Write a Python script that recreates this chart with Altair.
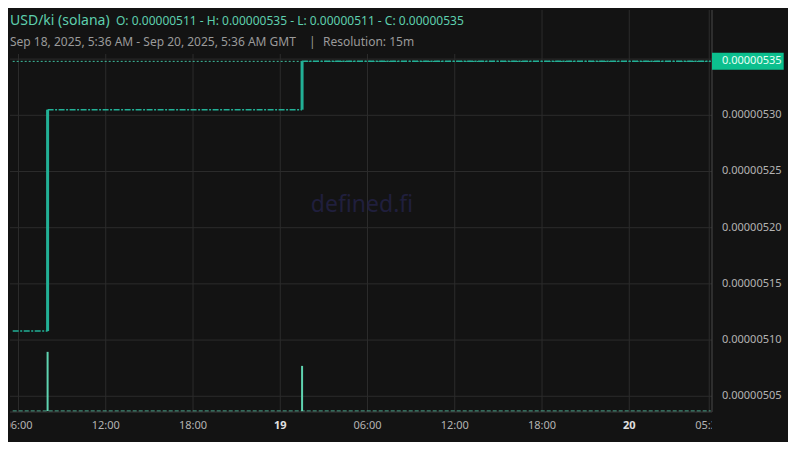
import altair as alt
import pandas as pd

# ---------------- data ----------------
range_start = "2025-09-18T05:36:00Z"
range_end = "2025-09-20T05:36:00Z"

seg_start = ["2025-09-18T05:36:00Z", "2025-09-18T08:00:00Z", "2025-09-19T01:30:00Z"]
seg_end = ["2025-09-18T08:00:00Z", "2025-09-19T01:30:00Z", "2025-09-20T05:36:00Z"]
seg_price = [5.108e-6, 5.305e-6, 5.348e-6]

candle_time = ["2025-09-18T08:00:00Z", "2025-09-19T01:30:00Z"]
candle_open = [5.108e-6, 5.305e-6]
candle_close = [5.305e-6, 5.348e-6]
vol_value = [118, 90]

last_price = 5.348e-6
last_label = "0.00000535"

price_ticks = [5.05e-6, 5.10e-6, 5.15e-6, 5.20e-6, 5.25e-6, 5.30e-6, 5.35e-6]
time_ticks = ["2025-09-18T06:00:00Z", "2025-09-18T12:00:00Z", "2025-09-18T18:00:00Z",
              "2025-09-19T00:00:00Z", "2025-09-19T06:00:00Z", "2025-09-19T12:00:00Z",
              "2025-09-19T18:00:00Z", "2025-09-20T00:00:00Z", "2025-09-20T05:30:00Z"]
time_labels = ["06:00", "12:00", "18:00", "19", "06:00", "12:00", "18:00", "20", "05:30"]
time_bold = [False, False, False, True, False, False, False, True, False]

title_pair = "USD/ki (solana)"
title_ohlc = "O: 0.00000511 - H: 0.00000535 - L: 0.00000511 - C: 0.00000535"
subtitle_range = "Sep 18, 2025, 5:36 AM - Sep 20, 2025, 5:36 AM GMT"
subtitle_res = "Resolution: 15m"
watermark = "defined.fi"

# ---------------- styles ----------------
BG = "#131313"
GRID = "#2c2c2c"
TEAL = "#22b096"
TEAL_LIGHT = "#5fd3b0"
LABEL = "#b4b4b4"
FONT = "Noto Sans"

W, PH, H = 702, 402, 432


def ms(s):
    return int(pd.Timestamp(s).value // 10**6)


t0, t1 = ms(range_start), ms(range_end)
XS = alt.Scale(domain=[t0, t1], range=[2.7, 700.7], nice=False, zero=False)
YS = alt.Scale(domain=[5.0360e-6, 5.3937e-6], range=[PH, 0], nice=False, zero=False)
VS = alt.Scale(domain=[0, 800], range=[401, 0], nice=False)

seg_df = pd.DataFrame({"t": [ms(s) for s in seg_start], "t2": [ms(s) for s in seg_end], "p": seg_price})
candle_df = pd.DataFrame({"t": [ms(s) for s in candle_time], "o": candle_open, "c": candle_close, "v": vol_value})
ptick_df = pd.DataFrame({"p": price_ticks})
ttick_df = pd.DataFrame({"t": [ms(s) for s in time_ticks], "label": time_labels, "bold": time_bold})
range_df = pd.DataFrame({"t": [t0], "t2": [t1], "p": [last_price], "label": [last_label], "v": [0]})
one = pd.DataFrame({"k": [0]})

x = lambda f: alt.X(f, type="quantitative", scale=XS, axis=None)
y = lambda f: alt.Y(f, type="quantitative", scale=YS, axis=None)

h_grid = alt.Chart(ptick_df).mark_rule(color=GRID, strokeWidth=1).encode(
    y=y("p"), x=alt.value(0), x2=alt.value(W))
v_grid = alt.Chart(ttick_df).mark_rule(color=GRID, strokeWidth=1).encode(
    x=x("t"), y=alt.value(0), y2=alt.value(PH))
legend_bg = alt.Chart(one).mark_rect(fill=BG).encode(
    x=alt.value(0), x2=alt.value(458), y=alt.value(0), y2=alt.value(44))
wm = alt.Chart(one).mark_text(text=watermark, font=FONT, fontSize=23, color="#201f3d",
                              align="center", baseline="middle").encode(
    x=alt.value(352), y=alt.value(195))

vol_bars = alt.Chart(candle_df).mark_rule(color=TEAL_LIGHT, strokeWidth=2).encode(
    x=x("t"), y=alt.Y("v:Q", scale=VS, axis=None), y2=alt.value(401))
vol_base = alt.Chart(range_df).mark_rule(color="#52c4a4", strokeWidth=1.2, strokeDash=[4, 2]).encode(
    x=x("t"), x2="t2:Q", y=alt.Y("v:Q", scale=VS, axis=None))

segs = alt.Chart(seg_df).mark_rule(color=TEAL, strokeWidth=1.5, strokeDash=[6, 1.5, 2, 1.5]).encode(
    x=x("t"), x2="t2:Q", y=y("p"))
price_line = alt.Chart(range_df).mark_rule(color="#3fbf9f", strokeWidth=1, strokeDash=[2, 2]).encode(
    x=x("t"), x2="t2:Q", y=y("p"))
candles = alt.Chart(candle_df).mark_rule(color=TEAL, strokeWidth=3, strokeCap="butt").encode(
    x=x("t"), y=y("o"), y2="c:Q")

right_border = alt.Chart(one).mark_rule(color="#4a4a4a", strokeWidth=1).encode(
    x=alt.value(W), y=alt.value(0), y2=alt.value(PH))
bottom_border = alt.Chart(one).mark_rule(color="#3a3a3a", strokeWidth=1).encode(
    x=alt.value(0), x2=alt.value(W), y=alt.value(PH))

y_labels = alt.Chart(ptick_df).transform_filter(
    f"abs(datum.p - {last_price}) > 1e-8").mark_text(
    font=FONT, fontSize=11, color=LABEL, align="left", baseline="middle", dx=10).encode(
    x=alt.value(W), y=y("p"), text=alt.Text("p:Q", format=".8f"))
price_box = alt.Chart(range_df).mark_rule(color="#0cbf8e", strokeWidth=17, strokeCap="butt").encode(
    x=alt.value(W), x2=alt.value(773.7), y=y("p"))
price_text = alt.Chart(range_df).mark_text(font=FONT, fontSize=11, color="#e8fff6", align="left",
                                           baseline="middle", dx=10).encode(
    x=alt.value(W), y=y("p"), text="label:N")

x_labels = alt.Chart(ttick_df).transform_filter("!datum.bold").mark_text(
    font=FONT, fontSize=11, color=LABEL, align="center", baseline="middle", clip=True).encode(
    x=x("t"), y=alt.value(415.5), text="label:N")
x_labels_bold = alt.Chart(ttick_df).transform_filter("datum.bold").mark_text(
    font=FONT, fontSize=11, fontWeight="bold", color="#e0e0e0", align="center",
    baseline="middle", clip=True).encode(
    x=x("t"), y=alt.value(415.5), text="label:N")

t_pair = alt.Chart(one).mark_text(text=title_pair, font=FONT, fontSize=14, color="#5ecfae",
                                  align="left", baseline="alphabetic").encode(
    x=alt.value(0), y=alt.value(15))
t_ohlc = alt.Chart(one).mark_text(text=title_ohlc, font=FONT, fontSize=12, color="#5ecfae",
                                  align="left", baseline="alphabetic").encode(
    x=alt.value(106), y=alt.value(15))
t_range = alt.Chart(one).mark_text(text=subtitle_range, font=FONT, fontSize=12, color="#9a9a9a",
                                   align="left", baseline="alphabetic").encode(
    x=alt.value(0), y=alt.value(35.7))
t_bar = alt.Chart(one).mark_text(text="|", font=FONT, fontSize=12, color="#9a9a9a",
                                 align="left", baseline="alphabetic").encode(
    x=alt.value(299), y=alt.value(35.7))
t_res = alt.Chart(one).mark_text(text=subtitle_res, font=FONT, fontSize=12, color="#9a9a9a",
                                 align="left", baseline="alphabetic").encode(
    x=alt.value(313), y=alt.value(35.7))

chart = alt.layer(
    h_grid, v_grid, legend_bg, wm, vol_base, vol_bars, price_line, segs, candles,
    right_border, bottom_border, y_labels, price_box, price_text, x_labels, x_labels_bold,
    t_pair, t_ohlc, t_range, t_bar, t_res,
).resolve_scale(y="independent").properties(
    width=W, height=H,
    autosize=alt.AutoSizeParams(type="none"),
    padding={"left": 2, "top": 2, "right": 76, "bottom": 0},
    usermeta={"embedOptions": {"defaultStyle": "html, body { background: #131313; }"}},
).configure(background=BG, font=FONT).configure_view(stroke=None)

chart.save("out.html", embed_options={"renderer": "svg", "actions": False})
